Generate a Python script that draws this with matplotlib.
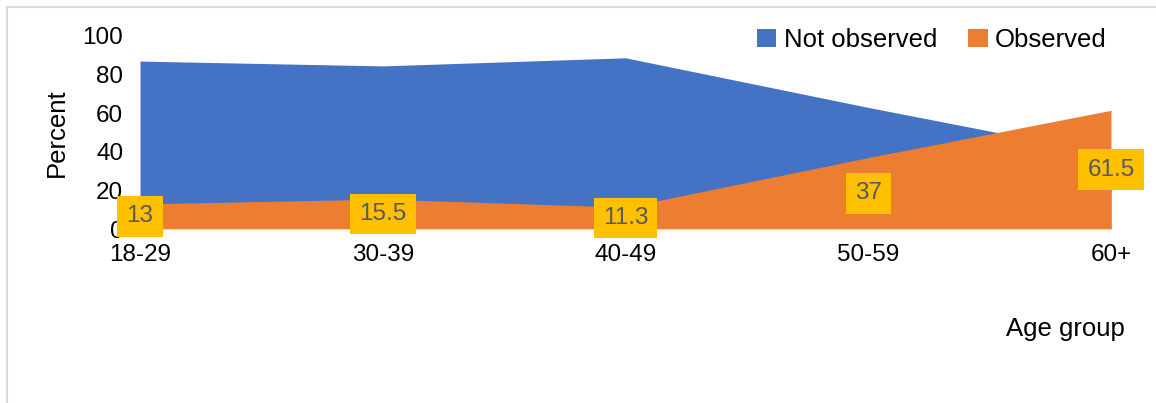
import numpy as np
import matplotlib.pyplot as plt
from matplotlib.lines import Line2D

plt.rcParams['font.family'] = ['Liberation Sans', 'DejaVu Sans']

groups = ['18-29', '30-39', '40-49', '50-59', '60+']
observed = [13, 15.5, 11.3, 37, 61.5]
not_observed = [87, 84.5, 88.7, 63, 38.5]

blue = '#4472C4'
orange = '#ED7D31'
gold = '#FFC000'

fig = plt.figure(figsize=(11.56, 4.03), dpi=100)
ax = fig.add_axes([140/1156, 1-229/403, (1111-140)/1156, (229-36)/403])

x = np.arange(len(groups))
ax.fill_between(x, 0, not_observed, color=blue, lw=0, label='Not observed')
ax.fill_between(x, 0, observed, color=orange, lw=0, label='Observed')

for xi, v in zip(x, observed):
    ax.text(xi, v/2, f'{v:g}', ha='center', va='center', fontsize=17.5, color='#595959',
            bbox=dict(boxstyle='square,pad=0.38', fc=gold, ec='none'))

ax.set_xlim(0, 4)
ax.set_ylim(0, 100)
ax.set_yticks([0, 20, 40, 60, 80, 100])
ax.set_xticks(x)
ax.set_xticklabels(groups)
ax.tick_params(axis='both', length=0, labelsize=17.5)
ax.tick_params(axis='x', pad=11)
ax.tick_params(axis='y', pad=12)
for s in ['top', 'right', 'left']:
    ax.spines[s].set_visible(False)
ax.spines['bottom'].set_color('#D9D9D9')
ax.set_zorder(1)

fig.text(57/1156, 1-133/403, 'Percent', rotation=90, ha='center', va='center', fontsize=18.5)
fig.text(1065/1156, 1-329/403, 'Age group', ha='center', va='center', fontsize=18.5)

ax.legend(loc='center', bbox_to_anchor=((932/1156 - 140/1156)/((1111-140)/1156), (229-40)/(229-36)),
          ncol=2, frameon=False, fontsize=18.5, handlelength=0.75, handleheight=0.75,
          handletextpad=0.3, columnspacing=1.2)

# chart border
fig.add_artist(Line2D([7/1156, 7/1156], [0, 1-7/403], color='#D9D9D9', lw=1.5, transform=fig.transFigure))
fig.add_artist(Line2D([7/1156, 1], [1-7/403, 1-7/403], color='#D9D9D9', lw=1.5, transform=fig.transFigure))

fig.savefig('out.png', dpi=100)
